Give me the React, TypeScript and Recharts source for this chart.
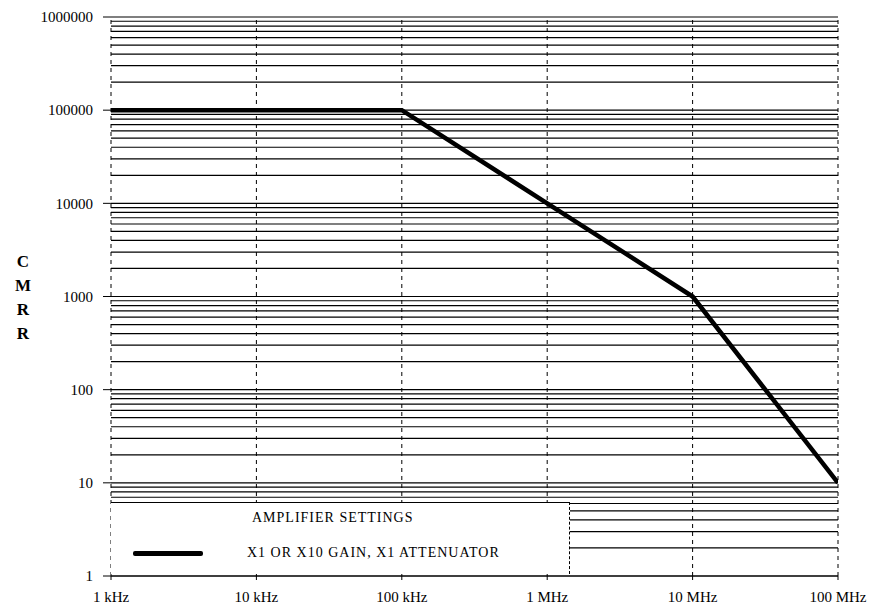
import React from "react";
import { LineChart, Line, XAxis, YAxis, ReferenceLine, Legend } from "recharts";

const frequencies = [1e3, 1e5, 1e6, 1e7, 1e8];
const cmrrValues = [1e5, 1e5, 1e4, 1e3, 10];

const xTicks = [1e3, 1e4, 1e5, 1e6, 1e7, 1e8];
const xTickLabels = ["1 kHz", "10 kHz", "100 kHz", "1 MHz", "10 MHz", "100 MHz"];
const yTicks = [1, 10, 100, 1000, 10000, 100000, 1000000];
const yTickLabels = ["1", "10", "100", "1000", "10000", "100000", "1000000"];
const minorMultipliers = [1, 2, 3, 4, 5, 6, 7, 8, 9];
const yDecades = [1, 10, 100, 1000, 10000, 100000];

const legendTitle = "AMPLIFIER SETTINGS";
const seriesName = "X1 OR X10 GAIN, X1 ATTENUATOR";
const axisLetters = ["C", "M", "R", "R"];

const data = frequencies.map((f, i) => ({ f, v: cmrrValues[i] }));
const hGrid = [...yDecades.flatMap((d) => minorMultipliers.map((m) => m * d)), 1000000];

const FONT = "Liberation Serif";

const LegendBox = () => (
  <div
    style={{
      position: "relative",
      width: 459,
      height: 72,
      background: "#fff",
      borderTop: "1px solid #000",
      borderRight: "1px dashed #000",
      boxSizing: "border-box",
      fontFamily: FONT,
      color: "#000",
      fontSize: 14,
      letterSpacing: 1,
    }}
  >
    <div style={{ position: "absolute", left: 141, top: 7, whiteSpace: "nowrap" }}>{legendTitle}</div>
    <div style={{ position: "absolute", left: 22, top: 48, width: 70, height: 5, background: "#000", borderRadius: 2 }} />
    <div style={{ position: "absolute", left: 136, top: 42, whiteSpace: "nowrap" }}>{seriesName}</div>
  </div>
);

const YLabel = (props: any) => {
  const vb = props.viewBox || {};
  const cy = vb.y + vb.height / 2;
  const offsets = [-36, -12, 12, 36];
  return (
    <g>
      {axisLetters.map((l, i) => (
        <text
          key={i}
          x={23}
          y={cy + offsets[i]}
          dy="0.355em"
          textAnchor="middle"
          fontFamily={FONT}
          fontWeight="bold"
          fontSize={17}
          fill="#000"
        >
          {l}
        </text>
      ))}
    </g>
  );
};

export default function App() {
  return (
    <div style={{ position: "absolute", left: 0, top: 0, background: "#fff", fontFamily: FONT }}>
      <LineChart
        width={873}
        height={606}
        data={data}
        margin={{ top: 17, right: 35, left: 11, bottom: 0 }}
        style={{ fontFamily: FONT }}
      >
        {hGrid.map((v) => (
          <ReferenceLine key={"h" + v} y={v} stroke="#000" strokeWidth={1.2} />
        ))}
        {xTicks.map((v) => (
          <ReferenceLine key={"v" + v} x={v} stroke="#000" strokeWidth={1} strokeDasharray="4 4" />
        ))}
        <XAxis
          dataKey="f"
          type="number"
          scale="log"
          domain={[1e3, 1e8]}
          ticks={xTicks}
          tickFormatter={(v: number) => xTickLabels[xTicks.indexOf(v)] ?? ""}
          height={30}
          tickSize={4}
          tickMargin={11}
          axisLine={{ stroke: "#000", strokeWidth: 1.2 }}
          tickLine={{ stroke: "#000" }}
          tick={{ fill: "#000", fontSize: 15, fontFamily: FONT }}
          interval={0}
          allowDataOverflow
        />
        <YAxis
          type="number"
          scale="log"
          domain={[1, 1e6]}
          ticks={yTicks}
          tickFormatter={(v: number) => yTickLabels[yTicks.indexOf(v)] ?? ""}
          width={100}
          tickSize={8}
          tickMargin={10}
          axisLine={false}
          tickLine={{ stroke: "#000" }}
          tick={{ fill: "#000", fontSize: 15, fontFamily: FONT }}
          interval={0}
          allowDataOverflow
          label={{ content: YLabel }}
        />
        <Line
          dataKey="v"
          type="linear"
          stroke="#000"
          strokeWidth={4.5}
          dot={false}
          isAnimationActive={false}
          name={seriesName}
        />
        <Legend
          layout="horizontal"
          verticalAlign="middle"
          align="center"
          content={() => <LegendBox />}
          wrapperStyle={{ left: 111, top: 502, width: 459, height: 72 }}
        />
      </LineChart>
    </div>
  );
}
